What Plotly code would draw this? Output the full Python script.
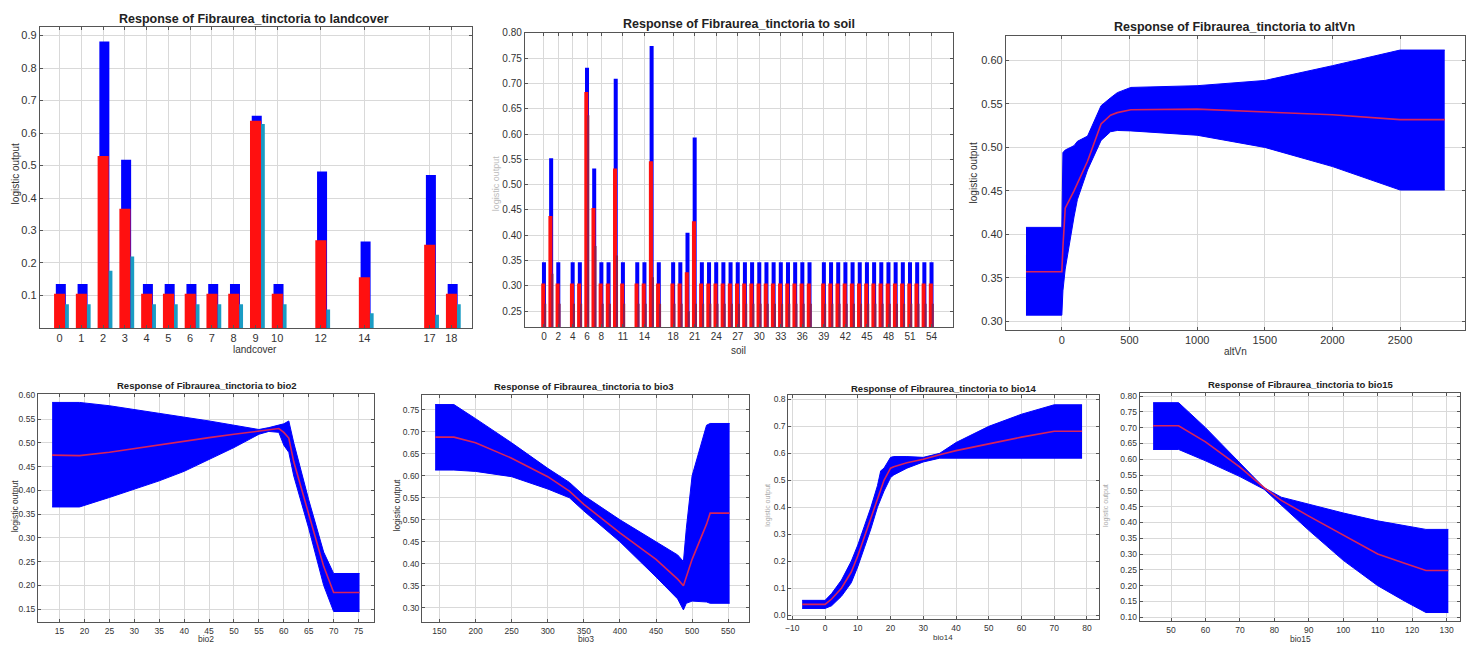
import plotly.graph_objects as go

W, H = 1474, 645
SPECIES = "Fibraurea_tinctoria"

# ---------------- landcover (bars) ----------------
lc_cats = [0, 1, 2, 3, 4, 5, 6, 7, 8, 9, 10, 12, 14, 17, 18]
lc_upper = [0.135, 0.135, 0.882, 0.518, 0.135, 0.135, 0.135, 0.135, 0.135, 0.653, 0.135, 0.482, 0.266, 0.471, 0.135]
lc_mean = [0.105, 0.105, 0.529, 0.367, 0.105, 0.105, 0.105, 0.105, 0.105, 0.638, 0.105, 0.270, 0.156, 0.256, 0.105]
lc_lower = [0.073, 0.073, 0.176, 0.220, 0.073, 0.073, 0.073, 0.073, 0.073, 0.628, 0.073, 0.057, 0.045, 0.041, 0.073]

# ---------------- soil (bars) ----------------
soil_cats = [0, 1, 2] + list(range(4, 12)) + [13, 14, 15, 16] + list(range(18, 38)) + list(range(39, 55))
soil_special_upper = {1: 0.552, 6: 0.731, 7: 0.532, 10: 0.709, 15: 0.774, 20: 0.405, 21: 0.593}
soil_special_mean = {1: 0.438, 6: 0.683, 7: 0.454, 10: 0.532, 15: 0.546, 20: 0.327, 21: 0.428}
soil_special_lower = {1: 0.324, 6: 0.637, 7: 0.379, 10: 0.360, 15: 0.317, 20: 0.250, 21: 0.265}
soil_upper = [soil_special_upper.get(c, 0.347) for c in soil_cats]
soil_mean = [soil_special_mean.get(c, 0.305) for c in soil_cats]
soil_lower = [soil_special_lower.get(c, 0.265) for c in soil_cats]
soil_ticks = [0, 2, 4, 6, 8, 11, 14, 18, 21, 24, 27, 30, 33, 36, 39, 42, 45, 48, 51, 54]

# ---------------- altVn ----------------
alt_x = [-265, 0, 8, 25, 90, 115, 190, 290, 360, 410, 510, 1000, 1500, 2000, 2500, 2830]
alt_upper = [0.408, 0.408, 0.494, 0.497, 0.502, 0.507, 0.513, 0.548, 0.557, 0.563, 0.569, 0.571, 0.577, 0.594, 0.612, 0.612]
alt_mean = [0.357, 0.357, 0.385, 0.430, 0.450, 0.459, 0.484, 0.527, 0.537, 0.540, 0.5434, 0.544, 0.541, 0.5375, 0.532, 0.532]
alt_lower = [0.307, 0.307, 0.335, 0.360, 0.420, 0.440, 0.474, 0.508, 0.518, 0.5195, 0.519, 0.514, 0.500, 0.478, 0.451, 0.451]

# ---------------- bio2 ----------------
bio2_x = [13.5, 19, 25, 30, 35, 40, 45, 50, 55, 57, 59, 60, 61, 62, 65, 68, 70, 75.2]
bio2_mean = [0.474, 0.473, 0.480, 0.488, 0.496, 0.504, 0.511, 0.518, 0.525, 0.528, 0.530, 0.522, 0.510, 0.460, 0.350, 0.240, 0.185, 0.185]
bio2_upper = [0.585, 0.585, 0.578, 0.570, 0.563, 0.555, 0.546, 0.537, 0.528, 0.532, 0.538, 0.540, 0.546, 0.500, 0.380, 0.270, 0.225, 0.225]
bio2_lower = [0.365, 0.365, 0.385, 0.402, 0.420, 0.440, 0.465, 0.490, 0.518, 0.524, 0.522, 0.495, 0.480, 0.430, 0.320, 0.200, 0.145, 0.145]

# ---------------- bio3 ----------------
bio3_x = [144, 170, 200, 250, 300, 330, 350, 400, 450, 480, 488, 492, 500, 520, 525, 552]
bio3_upper = [0.762, 0.762, 0.730, 0.675, 0.617, 0.585, 0.555, 0.500, 0.450, 0.420, 0.405, 0.480, 0.600, 0.715, 0.719, 0.719]
bio3_mean = [0.688, 0.688, 0.675, 0.640, 0.598, 0.565, 0.535, 0.470, 0.410, 0.365, 0.350, 0.370, 0.410, 0.490, 0.515, 0.515]
bio3_lower = [0.613, 0.613, 0.610, 0.598, 0.570, 0.550, 0.520, 0.450, 0.370, 0.320, 0.295, 0.310, 0.315, 0.313, 0.310, 0.310]

# ---------------- bio14 ----------------
bio14_x = [-7, 0, 2, 5, 8, 10, 12, 14, 16, 17, 18, 20, 21, 25, 30, 35, 40, 50, 60, 70, 78.5]
bio14_mean = [0.040, 0.040, 0.060, 0.100, 0.160, 0.220, 0.290, 0.360, 0.430, 0.470, 0.500, 0.545, 0.550, 0.565, 0.578, 0.595, 0.610, 0.635, 0.660, 0.682, 0.682]
bio14_upper = [0.055, 0.055, 0.080, 0.130, 0.200, 0.260, 0.330, 0.400, 0.480, 0.535, 0.545, 0.585, 0.588, 0.588, 0.585, 0.600, 0.640, 0.700, 0.745, 0.780, 0.780]
bio14_lower = [0.025, 0.025, 0.035, 0.070, 0.120, 0.180, 0.250, 0.320, 0.400, 0.430, 0.460, 0.510, 0.520, 0.545, 0.568, 0.582, 0.582, 0.582, 0.582, 0.582, 0.582]

# ---------------- bio15 ----------------
bio15_x = [44.8, 52.2, 60, 70, 77, 82, 90, 100, 110, 118, 124, 130.5]
bio15_mean = [0.706, 0.706, 0.655, 0.575, 0.510, 0.470, 0.420, 0.360, 0.300, 0.270, 0.248, 0.248]
bio15_upper = [0.779, 0.779, 0.700, 0.590, 0.510, 0.480, 0.458, 0.430, 0.405, 0.390, 0.378, 0.378]
bio15_lower = [0.631, 0.631, 0.595, 0.545, 0.505, 0.455, 0.375, 0.280, 0.200, 0.150, 0.115, 0.115]

BLUE = "#0000ff"
RED = "#ff1010"
MEANLINE = "#d8235a"
CYAN = "#1a9cc4"
GRID = "#d9d9d9"
FRAME = "#555555"
TXT = "#333333"
FONT = "Liberation Sans, Arial, sans-serif"

# panel boxes in pixels: (left, right, top, bottom)
boxes = {
    1: (37, 470, 22, 326),
    2: (523, 952, 28, 325),
    3: (1005, 1465, 31, 328),
    4: (35, 372, 393, 623),
    5: (420, 748, 394, 623),
    6: (787, 1098, 394, 620),
    7: (1139, 1460, 392, 622),
}


def xdom(b):
    return [b[0] / W, b[1] / W]


def ydom(b):
    return [1 - b[3] / H, 1 - b[2] / H]


fig = go.Figure()


def add_band(n, xs, lo, up, mean):
    xa, ya = ("x" if n == 1 else f"x{n}"), ("y" if n == 1 else f"y{n}")
    fig.add_trace(go.Scatter(x=xs, y=lo, mode="lines", line=dict(color=BLUE, width=1),
                             xaxis=xa, yaxis=ya, showlegend=False, hoverinfo="skip"))
    fig.add_trace(go.Scatter(x=xs, y=up, mode="lines", line=dict(color=BLUE, width=1),
                             fill="tonexty", fillcolor=BLUE,
                             xaxis=xa, yaxis=ya, showlegend=False, hoverinfo="skip"))
    fig.add_trace(go.Scatter(x=xs, y=mean, mode="lines", line=dict(color=MEANLINE, width=1.6),
                             xaxis=xa, yaxis=ya, showlegend=False))


def add_bars(n, cats, up, mean, lo, geom, third_color):
    xa, ya = ("x" if n == 1 else f"x{n}"), ("y" if n == 1 else f"y{n}")
    (bo, bw), (ro, rw), (co, cw) = geom
    fig.add_trace(go.Bar(x=cats, y=up, offset=bo, width=bw, marker=dict(color=BLUE, line=dict(width=0)),
                         xaxis=xa, yaxis=ya, showlegend=False))
    fig.add_trace(go.Bar(x=cats, y=mean, offset=ro, width=rw, marker=dict(color=RED, line=dict(width=0)),
                         xaxis=xa, yaxis=ya, showlegend=False))
    fig.add_trace(go.Bar(x=cats, y=lo, offset=co, width=cw, marker=dict(color=third_color, line=dict(width=0)),
                         xaxis=xa, yaxis=ya, showlegend=False))


add_bars(1, lc_cats, lc_upper, lc_mean, lc_lower,
         ((-0.17, 0.46), (-0.25, 0.51), (0.26, 0.17)), CYAN)
add_bars(2, soil_cats, soil_upper, soil_mean, soil_lower,
         ((-0.28, 0.56), (-0.38, 0.56), (0.02, 0.3)), "#8a1f55")
add_band(3, alt_x, alt_lower, alt_upper, alt_mean)
add_band(4, bio2_x, bio2_lower, bio2_upper, bio2_mean)
add_band(5, bio3_x, bio3_lower, bio3_upper, bio3_mean)
add_band(6, bio14_x, bio14_lower, bio14_upper, bio14_mean)
add_band(7, bio15_x, bio15_lower, bio15_upper, bio15_mean)


def axis(dom, rng, tickvals, fmt=None, size=11, anchor=None):
    d = dict(domain=dom, range=rng, tickvals=tickvals, showgrid=True, gridcolor=GRID, gridwidth=1,
             zeroline=False, showline=True, linecolor=FRAME, linewidth=1.2, mirror="ticks",
             ticks="inside", ticklen=3, tickcolor=FRAME,
             tickfont=dict(size=size, color=TXT, family=FONT), anchor=anchor)
    if fmt:
        d["tickformat"] = fmt
    return d


def frange(a, b, s):
    out, v = [], a
    while v <= b + 1e-9:
        out.append(round(v, 4))
        v += s
    return out


axes_spec = {
    1: dict(xr=[-0.9, 18.95], xt=lc_cats, xf=None, yr=[0, 0.927], yt=frange(0.1, 0.9, 0.1), yf=".1f", fs=11),
    2: dict(xr=[-2.65, 57.0], xt=soil_ticks, xf=None, yr=[0.219, 0.80], yt=frange(0.25, 0.80, 0.05), yf=".2f", fs=10),
    3: dict(xr=[-413, 2980], xt=frange(0, 2500, 500), xf=None, yr=[0.290, 0.6285], yt=frange(0.30, 0.60, 0.05), yf=".2f", fs=11),
    4: dict(xr=[10.65, 78.15], xt=frange(15, 75, 5), xf=None, yr=[0.1225, 0.602], yt=frange(0.15, 0.60, 0.05), yf=".2f", fs=8.5),
    5: dict(xr=[126, 579.5], xt=frange(150, 550, 50), xf=None, yr=[0.267, 0.783], yt=frange(0.30, 0.75, 0.05), yf=".2f", fs=8.5),
    6: dict(xr=[-11.2, 83.6], xt=frange(-10, 80, 10), xf=None, yr=[-0.015, 0.815], yt=frange(0.0, 0.8, 0.1), yf=".1f", fs=8.5),
    7: dict(xr=[40.9, 133.9], xt=frange(50, 130, 10), xf=None, yr=[0.0875, 0.8085], yt=frange(0.10, 0.80, 0.05), yf=".2f", fs=8.5),
}

layout = dict(width=W, height=H, margin=dict(l=0, r=0, t=0, b=0), plot_bgcolor="white",
              paper_bgcolor="white", barmode="overlay", showlegend=False,
              font=dict(family=FONT, color=TXT))
for n, s in axes_spec.items():
    b = boxes[n]
    xk = "xaxis" if n == 1 else f"xaxis{n}"
    yk = "yaxis" if n == 1 else f"yaxis{n}"
    ya = "y" if n == 1 else f"y{n}"
    xa = "x" if n == 1 else f"x{n}"
    layout[xk] = axis(xdom(b), s["xr"], s["xt"], s["xf"], s["fs"], anchor=ya)
    layout[yk] = axis(ydom(b), s["yr"], s["yt"], s["yf"], s["fs"], anchor=xa)

fig.update_layout(**layout)

# titles and axis labels as annotations (pixel positions)
titles = {
    1: ("landcover", 252, 14, 12.5),
    2: ("soil", 737, 19, 12.5),
    3: ("altVn", 1234, 22, 12.5),
    4: ("bio2", 204, 384, 9.5),
    5: ("bio3", 582, 385, 9.5),
    6: ("bio14", 942, 387, 9.5),
    7: ("bio15", 1300, 383, 9.5),
}
xlabels = {
    1: ("landcover", 253, 348, 10),
    2: ("soil", 737, 349, 10),
    3: ("altVn", 1235, 350, 10),
    4: ("bio2", 203, 640, 8.5),
    5: ("bio3", 584, 640, 8.5),
    6: ("bio14", 942, 638, 8),
    7: ("bio15", 1300, 640, 8.5),
}
ylabels = {
    1: (12, 170, 10, TXT),
    2: (494, 180, 9, "#bbbbbb"),
    3: (972, 170, 10, TXT),
    4: (12, 505, 8.5, TXT),
    5: (395, 505, 8.5, TXT),
    6: (767, 505, 7, "#aaaaaa"),
    7: (1106, 505, 7, "#aaaaaa"),
}
ann = []
for n, (var, px, py, fs) in titles.items():
    ann.append(dict(text=f"<b>Response of {SPECIES} to {var}</b>", x=px / W, y=1 - py / H,
                    xref="paper", yref="paper", xanchor="center", yanchor="middle", showarrow=False,
                    font=dict(size=fs, color="#222222", family=FONT)))
for n, (t, px, py, fs) in xlabels.items():
    ann.append(dict(text=t, x=px / W, y=1 - py / H, xref="paper", yref="paper", xanchor="center",
                    yanchor="middle", showarrow=False, font=dict(size=fs, color=TXT, family=FONT)))
for n, (px, py, fs, col) in ylabels.items():
    ann.append(dict(text="logistic output", x=px / W, y=1 - py / H, xref="paper", yref="paper",
                    xanchor="center", yanchor="middle", textangle=-90, showarrow=False,
                    font=dict(size=fs, color=col, family=FONT)))
fig.update_layout(annotations=ann)

fig.write_html("out.html", config={"displayModeBar": False},
               post_script="document.body.style.margin='0px';document.body.style.padding='0px';")
